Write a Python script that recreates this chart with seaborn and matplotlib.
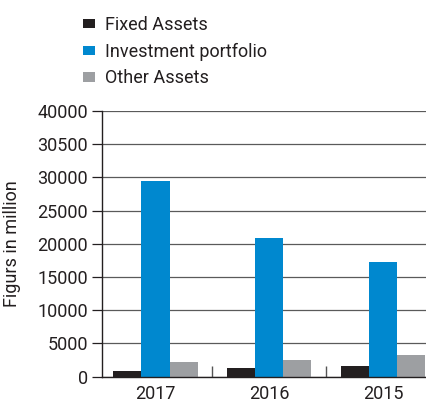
import matplotlib
matplotlib.use("Agg")
import matplotlib.pyplot as plt
import seaborn as sns
import pandas as pd
from matplotlib import font_manager
from matplotlib.patches import Patch

years = ["2017", "2016", "2015"]
series = ["Fixed Assets", "Investment portfolio", "Other Assets"]
fixed_assets = [900, 1250, 1600]
investment_portfolio = [29400, 20900, 17200]
other_assets = [2200, 2500, 3300]
ytick_values = [0, 5000, 10000, 15000, 20000, 25000, 30000, 35000, 40000]
ytick_labels = ["0", "5000", "10000", "15000", "20000", "25000", "30000", "30500", "40000"]
colors = ["#231f20", "#0088cf", "#9d9fa2"]

sns.set_theme(style="white")
avail = {f.name for f in font_manager.fontManager.ttflist}
fams = [f for f in ["Liberation Sans Narrow", "DejaVu Sans Condensed", "Roboto", "DejaVu Sans"] if f in avail]
plt.rcParams["font.family"] = fams
FS = 13

df = pd.DataFrame({
    "year": years * 3,
    "series": [series[0]] * 3 + [series[1]] * 3 + [series[2]] * 3,
    "value": fixed_assets + investment_portfolio + other_assets,
})

fig = plt.figure(figsize=(4.27, 4.05), dpi=100)
ax = fig.add_axes([102 / 427, 1 - 376.7 / 405, 1 - 102 / 427, (376.7 - 111) / 405])

sns.barplot(data=df, x="year", y="value", hue="series", hue_order=series,
            order=years, palette=colors, width=0.74, saturation=1, ax=ax,
            legend=False, edgecolor="none", linewidth=0)

ax.set_ylim(0, 40000)
ax.set_xlim(-0.47, 2.385)
ax.set_yticks(ytick_values)
ax.set_yticklabels(ytick_labels, fontsize=FS, color="#231f20")
ax.set_xticks([0, 1, 2])
ax.set_xticklabels(years, fontsize=FS, color="#231f20")
ax.tick_params(axis="x", length=0, pad=6)
ax.tick_params(axis="y", length=7, width=0.9, color="#231f20", pad=3, left=True)
ax.set_xticks([0.5, 1.5], minor=True)
ax.tick_params(axis="x", which="minor", direction="in", length=8, width=1.0,
               color="#555555", bottom=True)
ax.set_xlabel("")
ax.set_ylabel("Figurs in million", fontsize=FS, color="#231f20", labelpad=12)
ax.yaxis.grid(True, color="#5a5a5a", linewidth=0.9)
ax.set_axisbelow(True)
for s in ["top", "right"]:
    ax.spines[s].set_visible(False)
for s in ["left", "bottom"]:
    ax.spines[s].set_color("#231f20")
    ax.spines[s].set_linewidth(1.0)

handles = [Patch(facecolor=c, edgecolor="none") for c in colors]
fig.legend(handles, series, loc="upper left", bbox_to_anchor=(83 / 427, 1 - 16 / 405),
           frameon=False, fontsize=FS, handlelength=0.67, handleheight=0.44,
           handletextpad=0.55, labelspacing=0.48, borderpad=0, borderaxespad=0,
           labelcolor="#231f20")

fig.savefig("out.png", dpi=100)
